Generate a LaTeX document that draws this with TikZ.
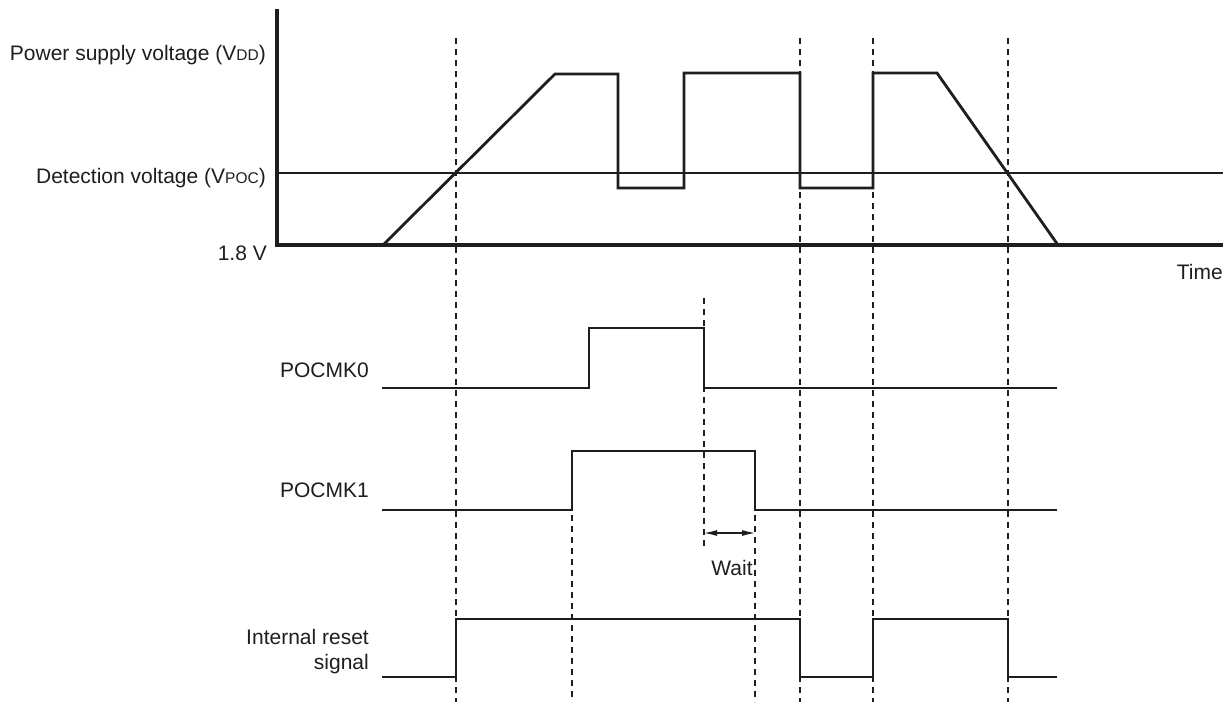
\documentclass[tikz,border=0pt]{standalone}
\usepackage{fontspec}
\setmainfont{Liberation Sans}
\usetikzlibrary{arrows.meta}
\definecolor{ink}{HTML}{1E1E1E}
\tikzset{
  lbl/.style={inner sep=0pt, text=ink, font=\fontsize{21}{24}\selectfont},
  wave/.style={draw=ink, line width=2.8pt, line join=miter},
  axis/.style={draw=ink, line width=3.1pt},
  thinline/.style={draw=ink, line width=1.3pt},
  guide/.style={draw=ink, line width=1.2pt, dash pattern=on 6pt off 5pt},
}
\newcommand{\smallsub}[1]{{\fontsize{15.5}{16}\selectfont #1}}
\begin{document}
\begin{tikzpicture}[x=1pt,y=-1pt]
\useasboundingbox (0,0) rectangle (1227,702);
\fill[white] (0,0) rectangle (1227,702);

% guide lines
\coordinate (g1t) at (456,38);  \coordinate (g1b) at (456,702);
\coordinate (g2t) at (572,515); \coordinate (g2b) at (572,702);
\coordinate (g3t) at (704,298); \coordinate (g3b) at (704,548);
\coordinate (g4t) at (755,515); \coordinate (g4b) at (755,702);
\coordinate (g5t) at (800,38);  \coordinate (g5b) at (800,702);
\coordinate (g6t) at (873,38);  \coordinate (g6b) at (873,702);
\coordinate (g7t) at (1008,38); \coordinate (g7b) at (1008,702);
\foreach \i in {1,...,7} { \draw[guide] (g\i t) -- (g\i b); }

% axes
\coordinate (ytop) at (277,9);
\coordinate (orig) at (277,245);
\coordinate (xend) at (1223,245);
\coordinate (dets) at (277,173);
\coordinate (dete) at (1223,173);
\draw[thinline] (dets) -- (dete);
\draw[axis] (ytop) -- (orig) -- (xend);

% VDD waveform
\coordinate (v0) at (383,245);
\draw[wave] (v0) -- (555,74) -- (618,74) -- (618,188) -- (684,188) -- (684,73)
  -- (800,73) -- (800,188) -- (873,188) -- (873,73) -- (937,73) -- (1058,245);

% POCMK0
\coordinate (p0s) at (382,388);
\coordinate (p0e) at (1057,388);
\draw[wave] (p0s) -- (589,388) -- (589,328) -- (704,328) -- (704,388) -- (p0e);

% POCMK1
\coordinate (p1s) at (382,510);
\coordinate (p1e) at (1057,510);
\draw[wave] (p1s) -- (572,510) -- (572,451) -- (755,451) -- (755,510) -- (p1e);

% Internal reset
\coordinate (rs) at (382,677);
\coordinate (re) at (1057,677);
\draw[wave] (rs) -- (456,677) -- (456,619) -- (800,619) -- (800,677) -- (873,677)
  -- (873,619) -- (1008,619) -- (1008,677) -- (re);

% Wait arrow
\coordinate (wa) at (704,533);
\coordinate (wb) at (755,533);
\draw[thinline, line width=1.2pt, {Latex[length=13pt,width=6pt]}-{Latex[length=13pt,width=6pt]}] (wa) -- (wb);

% labels
\node[lbl, anchor=base east] (lvdd) at (266,60) {Power supply voltage (V\smallsub{DD})};
\node[lbl, anchor=base east] (lpoc) at (266,183) {Detection voltage (V\smallsub{POC})};
\node[lbl, anchor=base east] (l18) at (267,260) {1.8 V};
\node[lbl, anchor=base east] (ltime) at (1223,279) {Time};
\node[lbl, anchor=base east] (lp0) at (369,377) {POCMK0};
\node[lbl, anchor=base east] (lp1) at (369,497) {POCMK1};
\node[lbl, anchor=base east] (lir1) at (369,644) {Internal reset};
\node[lbl, anchor=base east] (lir2) at (369,669) {signal};
\node[lbl, anchor=base] (lwait) at (732,575) {Wait};
\end{tikzpicture}
\end{document}
